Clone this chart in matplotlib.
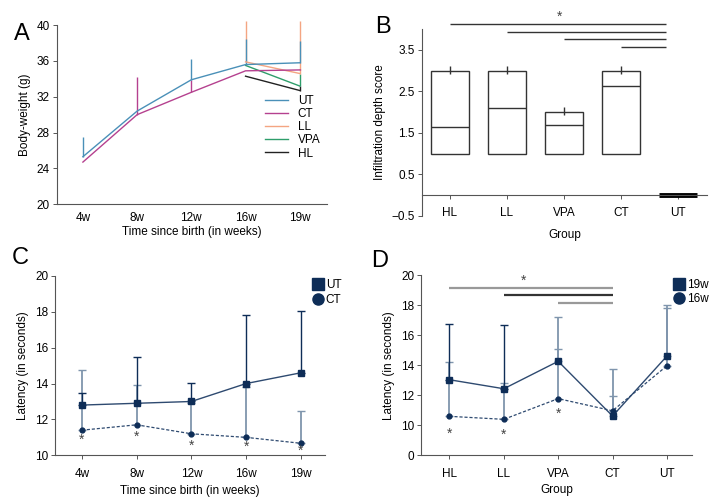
import numpy as np
import matplotlib
matplotlib.use("Agg")
import matplotlib.pyplot as plt

plt.rcParams['font.family'] = ['Liberation Sans Narrow', 'Liberation Sans', 'DejaVu Sans']
plt.rcParams['font.size'] = 8.5

# ---- panel A: body weight
weeks = ['4w', '8w', '12w', '16w', '19w']
nan = np.nan
bw_ut = [25.3, 30.4, 33.9, 35.6, 35.8]
bw_ct = [24.7, 30.0, 32.5, 34.9, 35.0]
bw_ll = [nan, nan, nan, 35.9, 34.6]
bw_vpa = [nan, nan, nan, 35.5, 33.2]
bw_hl = [nan, nan, nan, 34.3, 32.7]
bw_ut_up = [27.5, 30.4, 36.2, 38.5, 38.2]
bw_ct_up = [24.7, 34.2, 33.9, 34.9, 35.1]
bw_ll_up = [nan, nan, nan, 40.5, 40.5]
bw_vpa_up = [nan, nan, nan, 35.5, 34.6]
bw_hl_up = [nan, nan, nan, 34.3, 33.2]

# ---- panel B: infiltration depth
groups = ['HL', 'LL', 'VPA', 'CT', 'UT']
box_low = [1, 1, 1, 1, 0]
box_high = [3, 3, 2, 3, 0]
box_mid = [1.65, 2.09, 1.7, 2.64, 0]
sig_b_start = [0, 1, 2, 3]
sig_b_y = [4.12, 3.93, 3.76, 3.58]

# ---- panel C: latency over time
lat_ut = [12.8, 12.9, 13.0, 14.0, 14.6]
lat_ct = [11.4, 11.7, 11.2, 11.0, 10.67]
lat_ut_up = [13.5, 15.48, 14.05, 17.8, 18.03]
lat_ct_up = [14.78, 13.9, 12.9, 13.79, 12.45]
star_c_y = [10.85, 11.05, 10.55, 10.45, 10.25]

# ---- panel D: latency by group
lat19 = [13.04, 12.44, 14.27, 10.62, 14.62]
lat16 = [10.6, 10.4, 11.78, 10.97, 13.97]
lat19_up = [16.78, 16.67, 15.07, 11.96, 18.0]
lat16_up = [14.22, 12.84, 17.22, 13.73, 17.82]
sig_d_start = [0, 1, 2]
sig_d_y = [19.18, 18.67, 18.16]
star_d_y = [7.2, 7.0, 10.78]

navy = '#0e2d57'
light = '#7f95ad'
spine_c = '#555555'

fig = plt.figure(figsize=(7.2, 5.04), dpi=100)
axA = fig.add_axes([0.079, 0.595, 0.375, 0.355])
axB = fig.add_axes([0.586, 0.572, 0.396, 0.370])
axC = fig.add_axes([0.0764, 0.0966, 0.375, 0.356])
axD = fig.add_axes([0.585, 0.0966, 0.376, 0.357])


def style(ax):
    for s in ['top', 'right']:
        ax.spines[s].set_visible(False)
    for s in ['left', 'bottom']:
        ax.spines[s].set_color(spine_c)
        ax.spines[s].set_linewidth(0.8)
    ax.tick_params(length=3, width=0.7, color=spine_c, labelsize=8.5, pad=2)


# A
x = np.arange(len(weeks))
series = [('UT', bw_ut, bw_ut_up, '#4a90b8'),
          ('CT', bw_ct, bw_ct_up, '#b5418f'),
          ('LL', bw_ll, bw_ll_up, '#f4a582'),
          ('VPA', bw_vpa, bw_vpa_up, '#2e9e6b'),
          ('HL', bw_hl, bw_hl_up, '#222222')]
for name, v, up, c in series[::-1]:
    v = np.array(v)
    up = np.array(up)
    axA.vlines(x, v, up, color=c, lw=1, clip_on=False)
for name, v, up, c in series[::-1]:
    axA.plot(x, v, color=c, lw=1, label=name)
h, l = axA.get_legend_handles_labels()
axA.legend(h[::-1], l[::-1], loc='center left', bbox_to_anchor=(0.73, 0.43),
           frameon=False, handlelength=2.0, labelspacing=0.1, fontsize=8.5)
axA.set_ylim(20, 40)
axA.set_yticks([20, 24, 28, 32, 36, 40])
axA.set_xlim(-0.48, 4.5)
axA.set_xticks(x)
axA.set_xticklabels(weeks)
axA.set_ylabel('Body-weight (g)')
axA.set_xlabel('Time since birth (in weeks)', labelpad=1)
style(axA)
axA.tick_params(axis='x', length=0, pad=6)

# B
xb = np.arange(len(groups))
low = np.array(box_low)
high = np.array(box_high)
for i in range(4):
    axB.bar(xb[i], high[i] - low[i], bottom=low[i], width=0.66, fill=False,
            edgecolor='#333333', lw=1)
    axB.hlines(box_mid[i], xb[i] - 0.33, xb[i] + 0.33, color='#333333', lw=1)
    axB.vlines(xb[i], high[i] - 0.08, high[i] + 0.12, color='#333333', lw=1)
axB.hlines(box_mid[4], xb[4] - 0.33, xb[4] + 0.33, color='black', lw=3.5)
for s, yy in zip(sig_b_start, sig_b_y):
    axB.hlines(yy, s, 3.79, color='#333333', lw=1, clip_on=False)
axB.text(1.93, 4.3, '*', ha='center', va='center', fontsize=10, color='#444444')
axB.set_ylim(-0.5, 4.0)
axB.set_yticks([-0.5, 0.5, 1.5, 2.5, 3.5])
axB.set_yticklabels(['\u22120.5', '0.5', '1.5', '2.5', '3.5'])
axB.set_xlim(-0.49, 4.51)
axB.set_xticks(xb)
axB.set_xticklabels(groups)
style(axB)
axB.spines['bottom'].set_position(('data', 0))
axB.tick_params(axis='x', pad=6)
axB.spines['left'].set_bounds(-0.5, 4.0)
axB.set_ylabel('Infiltration depth score')
axB.set_xlabel('Group', labelpad=1)
axB.xaxis.set_label_coords(0.5, -0.07)

# C
axC.errorbar(x, lat_ct, yerr=[np.zeros(5), np.array(lat_ct_up) - np.array(lat_ct)],
             fmt='none', ecolor=light, elinewidth=1.3, capsize=3, capthick=1)
axC.errorbar(x, lat_ut, yerr=[np.zeros(5), np.array(lat_ut_up) - np.array(lat_ut)],
             fmt='none', ecolor=navy, elinewidth=1, capsize=3, capthick=1)
axC.plot(x, lat_ut, color='#2e4a70', lw=1, marker='s', ms=4.5, mfc=navy, mec=navy,
         label='UT')
axC.plot(x, lat_ct, color='#2e4a70', lw=0.9, ls=(0, (2.5, 1.5)), marker='o', ms=3.5,
         mfc=navy, mec=navy, label='CT')
for xi, yi in zip(x, star_c_y):
    axC.text(xi, yi, '*', ha='center', va='center', fontsize=10, color='#444444')
lg = axC.legend(loc='upper left', bbox_to_anchor=(0.92, 1.04), frameon=False,
                handlelength=0.6, handletextpad=0.4, labelspacing=0.2, fontsize=8.5)
for hh in lg.legend_handles:
    hh.set_linestyle('none')
    hh.set_markersize(8)
axC.set_ylim(10, 20)
axC.set_yticks([10, 12, 14, 16, 18, 20])
axC.set_xlim(-0.49, 4.44)
axC.set_xticks(x)
axC.set_xticklabels(weeks)
axC.set_ylabel('Latency (in seconds)')
axC.set_xlabel('Time since birth (in weeks)', labelpad=4)
style(axC)
axC.tick_params(axis='x', pad=6)


# D: broken scale (0-10 compressed)
def fwd(y):
    y = np.asarray(y, dtype=float)
    return np.where(y >= 10, y, 8 + 0.2 * y)


def inv(y):
    y = np.asarray(y, dtype=float)
    return np.where(y >= 10, y, (y - 8) / 0.2)


axD.set_yscale('function', functions=(fwd, inv))
axD.errorbar(xb, lat16, yerr=[np.zeros(5), np.array(lat16_up) - np.array(lat16)],
             fmt='none', ecolor=light, elinewidth=1.3, capsize=3, capthick=1)
axD.errorbar(xb[:2], lat19[:2], yerr=[np.zeros(2), np.array(lat19_up[:2]) - np.array(lat19[:2])],
             fmt='none', ecolor=navy, elinewidth=1, capsize=3, capthick=1)
axD.errorbar(xb[2:], lat19[2:], yerr=[np.zeros(3), np.array(lat19_up[2:]) - np.array(lat19[2:])],
             fmt='none', ecolor=light, elinewidth=1.3, capsize=3, capthick=1)
axD.plot(xb, lat19, color='#2e4a70', lw=1, marker='s', ms=4.5, mfc=navy, mec=navy,
         label='19w')
axD.plot(xb, lat16, color='#2e4a70', lw=0.9, ls=(0, (2.5, 1.5)), marker='o', ms=3.5,
         mfc=navy, mec=navy, label='16w')
sig_cols = ['#999999', '#333333', '#999999']
for s, yy, c in zip(sig_d_start, sig_d_y, sig_cols):
    axD.hlines(yy, s, 3.0, color=c, lw=1.6)
axD.text(1.37, 19.65, '*', ha='center', va='center', fontsize=10, color='#444444')
for xi, yi in zip(xb[:3], star_d_y):
    axD.text(xi, yi, '*', ha='center', va='center', fontsize=10, color='#444444')
lg = axD.legend(loc='upper left', bbox_to_anchor=(0.9, 1.04), frameon=False,
                handlelength=0.6, handletextpad=0.4, labelspacing=0.2, fontsize=8.5)
for hh in lg.legend_handles:
    hh.set_linestyle('none')
    hh.set_markersize(8)
axD.set_ylim(0, 20)
axD.set_yticks([0, 10, 12, 14, 16, 18, 20])
axD.set_yticklabels(['0', '10', '12', '14', '16', '18', '20'])
axD.minorticks_off()
axD.set_xlim(-0.52, 4.46)
axD.set_xticks(xb)
axD.set_xticklabels(groups)
axD.set_ylabel('Latency (in seconds)')
axD.set_xlabel('Group', labelpad=3)
style(axD)
axD.tick_params(axis='x', pad=6)

# panel letters
for lt, (px, py) in zip('ABCD', [(14, 40), (375, 33), (12, 264), (371, 267)]):
    fig.text(px / 720, 1 - py / 504, lt, fontsize=17, ha='left', va='baseline')

fig.savefig('out.png', dpi=100)
